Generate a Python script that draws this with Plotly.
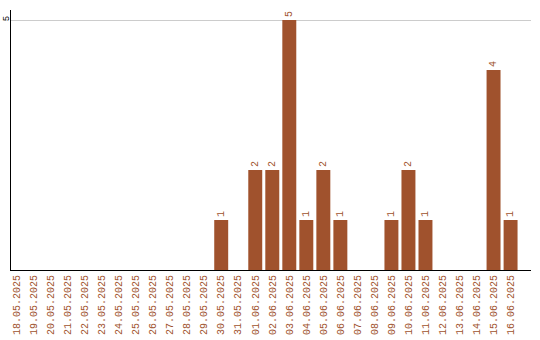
import plotly.graph_objects as go

dates = ["18.05.2025", "19.05.2025", "20.05.2025", "21.05.2025", "22.05.2025",
         "23.05.2025", "24.05.2025", "25.05.2025", "26.05.2025", "27.05.2025",
         "28.05.2025", "29.05.2025", "30.05.2025", "31.05.2025", "01.06.2025",
         "02.06.2025", "03.06.2025", "04.06.2025", "05.06.2025", "06.06.2025",
         "07.06.2025", "08.06.2025", "09.06.2025", "10.06.2025", "11.06.2025",
         "12.06.2025", "13.06.2025", "14.06.2025", "15.06.2025", "16.06.2025"]
counts = [0, 0, 0, 0, 0, 0, 0, 0, 0, 0, 0, 0, 1, 0, 2, 2, 5, 1, 2, 1,
          0, 0, 1, 2, 1, 0, 0, 0, 4, 1]

labels = [str(v) if v > 0 else "" for v in counts]
color = "#A0522D"
font_family = "Liberation Mono"

fig = go.Figure(go.Bar(
    x=dates, y=counts, marker_color=color, marker_line_width=0,
    text=labels, textposition="outside", textangle=-90, cliponaxis=False,
    textfont=dict(family=font_family, size=10, color=color),
))

fig.update_layout(
    width=540, height=340,
    margin=dict(l=11, r=9, t=10, b=70),
    paper_bgcolor="white", plot_bgcolor="white",
    bargap=0.18, showlegend=False,
)
fig.update_xaxes(
    type="category", range=[-0.35, 30.2], tickangle=-90, automargin=False,
    tickfont=dict(family=font_family, size=10, color=color),
    showline=True, linecolor="black", linewidth=1, showgrid=False,
    ticks="", ticklen=0, zeroline=False,
)
fig.update_yaxes(
    range=[0, 5.2], tickvals=[5], ticktext=["5"], tickangle=-90, automargin=False,
    tickfont=dict(family=font_family, size=9, color="black"),
    showline=True, linecolor="black", linewidth=1,
    showgrid=True, gridcolor="#cccccc", gridwidth=1, zeroline=False,
    ticks="", ticklen=0, ticklabelstandoff=-3,
)

fig.write_html("out.html")
